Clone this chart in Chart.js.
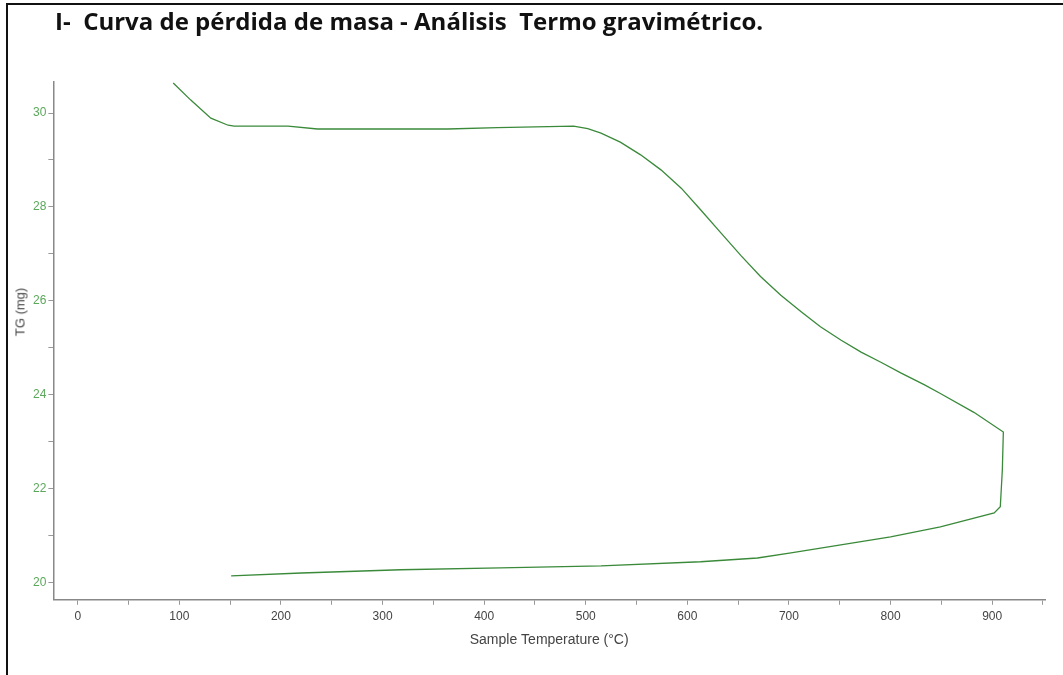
<!DOCTYPE html>
<html>
<head>
<meta charset="utf-8">
<script src="https://cdn.jsdelivr.net/npm/chart.js@4/dist/chart.umd.min.js"></script>
<style>
  html, body { margin: 0; padding: 0; background: #fff; }
  #wrap { position: relative; width: 1063px; height: 675px; overflow: hidden; }
  #frame { position: absolute; left: 6px; top: 3px; right: -10px; bottom: -10px;
           border-left: 2px solid #111; border-top: 2px solid #111; }
  #title { position: absolute; left: 55px; top: 4px; line-height: 28px; white-space: pre;
           font: bold 24px 'Open Sans', sans-serif; color: #111; }
  #ytitle { position: absolute; left: 20px; top: 312px; white-space: nowrap;
            transform: translate(-50%, -50%) rotate(-90deg);
            font: 13px 'Liberation Sans', sans-serif; color: #444; }
  canvas { position: absolute; left: 0; top: 0; }
</style>
</head>
<body>
<div id="wrap">
  <div id="frame"></div>
  <canvas id="chart" width="1063" height="675"></canvas>
  <div id="title"></div>
  <div id="ytitle"></div>
</div>
<script>
// heating run then cooling back, in the order the instrument recorded it
var temperature = [94, 111, 131, 148, 154, 207, 236, 364, 413, 488, 502, 515, 534, 554, 574, 594,
  613, 633, 653, 672, 692, 712, 731, 751, 771, 790, 810, 833, 849, 882, 911,
  910, 908, 902, 849, 800, 751, 702, 669, 613, 515, 416, 318, 220, 151];
var mass = [30.64, 30.28, 29.89, 29.74, 29.72, 29.72, 29.66, 29.66, 29.69, 29.72, 29.67, 29.57, 29.38, 29.11, 28.79, 28.40,
  27.94, 27.45, 26.96, 26.52, 26.12, 25.77, 25.45, 25.17, 24.91, 24.70, 24.47, 24.22, 24.03, 23.63, 23.21,
  22.40, 21.62, 21.49, 21.19, 20.98, 20.81, 20.64, 20.53, 20.45, 20.36, 20.32, 20.28, 20.21, 20.15];

var xTicks = [0, 50, 100, 150, 200, 250, 300, 350, 400, 450, 500, 550, 600, 650, 700, 750, 800, 850, 900, 950];
var yTicks = [20, 21, 22, 23, 24, 25, 26, 27, 28, 29, 30];

var chartTitle = 'I-  Curva de pérdida de masa - Análisis  Termo gravimétrico.';
var xTitle = 'Sample Temperature (°C)';
var yTitle = 'TG (mg)';

document.getElementById('title').textContent = chartTitle;
document.getElementById('ytitle').textContent = yTitle;

var points = [];
for (var i = 0; i < temperature.length; i++) {
  points.push({ x: temperature[i], y: mass[i] });
}

var tickFont = { family: "'Liberation Sans', sans-serif", size: 12 };

var setTicks = function(values) {
  return function(axis) {
    axis.ticks = values.map(function(v) { return { value: v }; });
  };
};

new Chart(document.getElementById('chart'), {
  type: 'scatter',
  data: {
    datasets: [{
      data: points,
      showLine: true,
      borderColor: '#3a8a3a',
      borderWidth: 1.3,
      pointRadius: 0,
      tension: 0
    }]
  },
  options: {
    responsive: false,
    animation: false,
    layout: { padding: { left: 31, right: 18, top: 82, bottom: 26 } },
    plugins: {
      legend: { display: false },
      tooltip: { enabled: false },
      title: { display: false }
    },
    scales: {
      x: {
        type: 'linear',
        min: -24,
        max: 952,
        afterBuildTicks: setTicks(xTicks),
        border: { display: true, color: '#888', width: 1.5 },
        grid: { drawOnChartArea: false, drawTicks: true, tickLength: 5, color: '#999' },
        ticks: {
          color: '#444',
          font: tickFont,
          padding: 5,
          autoSkip: false,
          maxRotation: 0,
          callback: function(v) { return v % 100 === 0 ? String(v) : ''; }
        },
        title: { display: true, text: xTitle, color: '#444',
                 font: { family: "'Liberation Sans', sans-serif", size: 14 }, padding: { top: 3, bottom: 0 } }
      },
      y: {
        type: 'linear',
        min: 19.64,
        max: 30.66,
        afterBuildTicks: setTicks(yTicks),
        border: { display: true, color: '#888', width: 1.5 },
        grid: { drawOnChartArea: false, drawTicks: true, tickLength: 5, color: '#999' },
        ticks: {
          color: '#5aa85a',
          font: tickFont,
          padding: 2,
          autoSkip: false,
          callback: function(v) { return v % 2 === 0 ? String(v) : ''; }
        }
      }
    }
  }
});
</script>
</body>
</html>
